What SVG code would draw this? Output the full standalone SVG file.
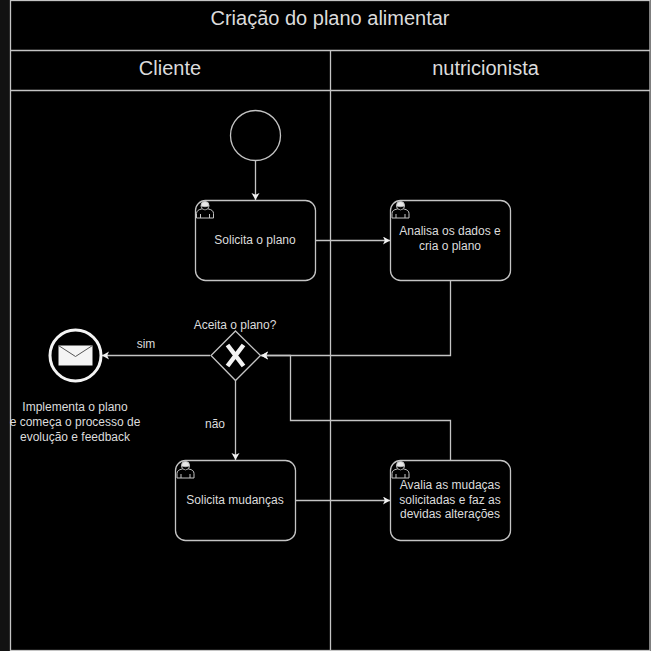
<svg xmlns="http://www.w3.org/2000/svg" width="651" height="651" viewBox="0 0 651 651">
<style>
text{font-family:"Liberation Sans",Arial,sans-serif;fill:#dcdcdc;text-anchor:middle}
.t{font-size:12px}
.h{font-size:20px}
.b{fill:#000;stroke:#c4c4c4;stroke-width:1.300}
.c{fill:none;stroke:#c4c4c4;stroke-width:1.300}
</style>
<defs>
<marker id="a" markerUnits="userSpaceOnUse" markerWidth="10" markerHeight="10" refX="7" refY="4" orient="auto"><path d="M0 0L7 4L0 8L1.800 4Z" fill="#f0f0f0"/></marker>
<g id="u"><path d="M1 17V12.500Q1 9 6 8Q8.500 7 9.500 7Q11 7 13 8Q18 9 18 12.500V17Z" fill="#000" stroke="#c4c4c4"/><path d="M5 17V13M14 17V13" stroke="#c4c4c4" fill="none"/><circle cx="9.500" cy="4.500" r="4" fill="#e8e8e8" stroke="#c4c4c4"/><path d="M5.500 5Q6 8.500 9.500 9Q13 8.500 13.500 5Q9.500 6.500 5.500 5Z" fill="#000" stroke="#c4c4c4" stroke-width=".7"/></g>
</defs>
<rect width="651" height="651" fill="#000"/>
<rect width="10" height="651" fill="#121212"/>
<g id="pool">
<rect class="b" x="10.500" y="0.500" width="639.500" height="650"/>
<path class="c" d="M10 50.500H650M10 90.500H650M330.500 50V650"/>
<text class="h" x="330" y="25">Criação do plano alimentar</text>
<text class="h" x="170" y="75">Cliente</text>
<text class="h" x="485.500" y="75">nutricionista</text>
</g>
<g id="connectors">
<path class="c" marker-end="url(#a)" d="M255.500 160V200"/>
<path class="c" marker-end="url(#a)" d="M315 240.500H390"/>
<path class="c" marker-end="url(#a)" d="M450.500 280V355.500H261"/>
<path class="c" marker-end="url(#a)" d="M210 355.500H102"/>
<path class="c" marker-end="url(#a)" d="M235.500 380V460"/>
<path class="c" marker-end="url(#a)" d="M295 500.500H390"/>
<path class="c" marker-end="url(#a)" d="M450.500 460V420.500H290.500V355.500H261"/>
<text class="t" x="146" y="348">sim</text>
<text class="t" x="215" y="428">não</text>
</g>
<g id="start"><circle class="b" cx="255.500" cy="135.500" r="25"/></g>
<g id="task1"><rect class="b" x="195.500" y="200.500" width="120" height="80" rx="10"/><use href="#u" x="195.500" y="201"/><text class="t" x="255" y="244">Solicita o plano</text></g>
<g id="task2"><rect class="b" x="390.500" y="200.500" width="120" height="80" rx="10"/><use href="#u" x="391" y="201"/><text class="t" x="450" y="235">Analisa os dados e</text><text class="t" x="450" y="250">cria o plano</text></g>
<g id="gateway"><path class="b" d="M235.500 331L260.500 355.500L235.500 380.500L211 355.500Z"/><path d="M227.500 345L243.500 366M243.500 345L227.500 366" fill="none" stroke="#f4f4f4" stroke-width="4.500"/><text class="t" x="235" y="329">Aceita o plano?</text></g>
<g id="end"><circle cx="75.500" cy="355.500" r="25.500" fill="#000" stroke="#f4f4f4" stroke-width="3"/><rect x="58.500" y="345.500" width="34" height="20" fill="#f4f4f4"/><path d="M58.500 345.500L75.500 356.500L92.500 345.500" fill="none" stroke="#555" stroke-width="1"/><text class="t" x="75" y="411">Implementa o plano</text><text class="t" x="75" y="426">e começa o processo de</text><text class="t" x="75" y="441">evolução e feedback</text></g>
<g id="task3"><rect class="b" x="175.500" y="460.500" width="120" height="80" rx="10"/><use href="#u" x="176" y="461"/><text class="t" x="235" y="504">Solicita mudanças</text></g>
<g id="task4"><rect class="b" x="390.500" y="460.500" width="120" height="80" rx="10"/><use href="#u" x="391" y="461"/><text class="t" x="450" y="489">Avalia as mudaças</text><text class="t" x="450" y="504">solicitadas e faz as</text><text class="t" x="450" y="518">devidas alterações</text></g>
</svg>
